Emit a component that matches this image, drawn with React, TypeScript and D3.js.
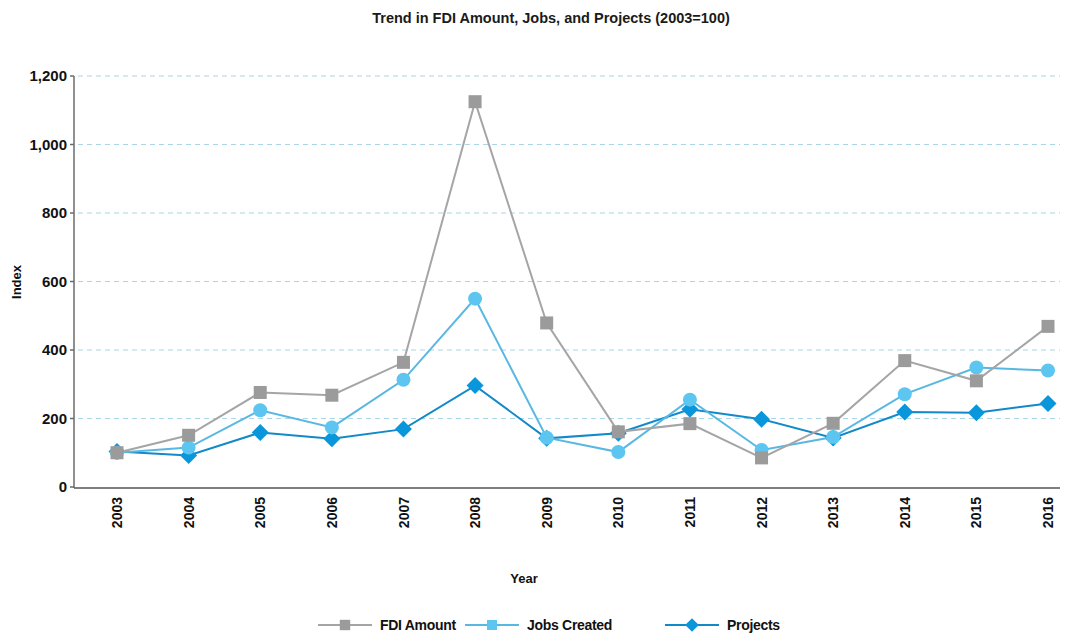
import { useEffect, useRef } from "react";
import * as d3 from "d3";

const years = [2003, 2004, 2005, 2006, 2007, 2008, 2009, 2010, 2011, 2012, 2013, 2014, 2015, 2016];
const fdiAmount = [100, 151, 276, 268, 364, 1125, 479, 161, 185, 85, 186, 369, 310, 469];
const jobsCreated = [100, 115, 224, 174, 313, 550, 144, 102, 255, 108, 146, 271, 349, 340];
const projects = [104, 92, 159, 141, 169, 296, 142, 157, 227, 198, 143, 219, 217, 244];
const yTicks = [0, 200, 400, 600, 800, 1000, 1200];

const FONT = "'Liberation Sans', Arial, sans-serif";

interface Series {
  name: string;
  values: number[];
  line: string;
  fill: string;
  symbol: "square" | "circle" | "diamond";
}

const series: Series[] = [
  { name: "Projects", values: projects, line: "#1289c8", fill: "#0a96db", symbol: "diamond" },
  { name: "Jobs Created", values: jobsCreated, line: "#58b8e2", fill: "#5cc6f0", symbol: "circle" },
  { name: "FDI Amount", values: fdiAmount, line: "#a5a5a5", fill: "#9b9b9b", symbol: "square" },
];

const legendOrder = ["FDI Amount", "Jobs Created", "Projects"];

export default function App() {
  const svgRef = useRef<SVGSVGElement | null>(null);

  useEffect(() => {
    if (!svgRef.current) return;
    const svg = d3.select(svgRef.current);
    svg.selectAll("*").remove();

    const width = 1067;
    const height = 636;
    const left = 74;
    const right = 1060;
    const top = 76;
    const bottom = 487;

    const x = d3.scalePoint<number>().domain(years).range([117, 1048]);
    const y = d3.scaleLinear().domain([0, 1200]).range([bottom, top]);

    svg
      .attr("width", width)
      .attr("height", height)
      .style("display", "block")
      .style("position", "absolute")
      .style("left", "0px")
      .style("top", "0px");

    svg
      .append("text")
      .attr("x", 551)
      .attr("y", 23)
      .attr("text-anchor", "middle")
      .attr("font-family", FONT)
      .attr("font-weight", 700)
      .attr("font-size", 14.5)
      .attr("fill", "#1a1a1a")
      .text("Trend in FDI Amount, Jobs, and Projects (2003=100)");

    // grid
    svg
      .append("g")
      .selectAll("line")
      .data(yTicks.filter((t) => t > 0))
      .join("line")
      .attr("x1", left + 4)
      .attr("x2", right)
      .attr("y1", (d) => y(d))
      .attr("y2", (d) => y(d))
      .attr("stroke", "#a9d6e8")
      .attr("stroke-width", 1.2)
      .attr("stroke-dasharray", "5,4");

    // y axis
    const yAxis = svg.append("g").attr("transform", `translate(${left},0)`);
    yAxis
      .append("line")
      .attr("y1", top)
      .attr("y2", bottom + 1)
      .attr("stroke", "#6b6b6b")
      .attr("stroke-width", 1.5);
    yAxis
      .selectAll("line.tick")
      .data(yTicks)
      .join("line")
      .attr("class", "tick")
      .attr("x1", -4)
      .attr("x2", 0)
      .attr("y1", (d) => y(d))
      .attr("y2", (d) => y(d))
      .attr("stroke", "#6b6b6b")
      .attr("stroke-width", 1.5);
    yAxis
      .selectAll("text")
      .data(yTicks)
      .join("text")
      .attr("x", -7)
      .attr("y", (d) => y(d))
      .attr("dy", "0.36em")
      .attr("text-anchor", "end")
      .attr("font-family", FONT)
      .attr("font-weight", 700)
      .attr("font-size", 15)
      .attr("fill", "#111")
      .text((d) => d3.format(",")(d));

    // x axis
    svg
      .append("line")
      .attr("x1", left)
      .attr("x2", right)
      .attr("y1", bottom + 1)
      .attr("y2", bottom + 1)
      .attr("stroke", "#555")
      .attr("stroke-width", 1.5);
    svg
      .append("g")
      .selectAll("text")
      .data(years)
      .join("text")
      .attr("transform", (d) => `translate(${x(d)},${bottom + 10}) rotate(-90)`)
      .attr("dy", "0.36em")
      .attr("text-anchor", "end")
      .attr("font-family", FONT)
      .attr("font-weight", 700)
      .attr("font-size", 14)
      .attr("fill", "#111")
      .text((d) => String(d));

    svg
      .append("text")
      .attr("transform", "translate(21,282) rotate(-90)")
      .attr("text-anchor", "middle")
      .attr("font-family", FONT)
      .attr("font-weight", 700)
      .attr("font-size", 13)
      .attr("fill", "#111")
      .text("Index");

    svg
      .append("text")
      .attr("x", 524)
      .attr("y", 583)
      .attr("text-anchor", "middle")
      .attr("font-family", FONT)
      .attr("font-weight", 700)
      .attr("font-size", 13)
      .attr("fill", "#111")
      .text("Year");

    const drawMarker = (
      g: d3.Selection<SVGGElement, unknown, null, undefined>,
      s: Series,
      cx: number,
      cy: number,
      scale = 1
    ) => {
      if (s.symbol === "square") {
        const h = 6.5 * scale;
        g.append("rect")
          .attr("x", cx - h)
          .attr("y", cy - h)
          .attr("width", h * 2)
          .attr("height", h * 2)
          .attr("fill", s.fill);
      } else if (s.symbol === "circle") {
        g.append("circle").attr("cx", cx).attr("cy", cy).attr("r", 7 * scale).attr("fill", s.fill);
      } else {
        const r = 8.5 * scale;
        g.append("path")
          .attr("d", `M${cx},${cy - r}L${cx + r},${cy}L${cx},${cy + r}L${cx - r},${cy}Z`)
          .attr("fill", s.fill);
      }
    };

    const line = d3
      .line<number>()
      .x((_, i) => x(years[i]) as number)
      .y((d) => y(d));

    series.forEach((s) => {
      const g = svg.append("g");
      g.append("path")
        .attr("d", line(s.values))
        .attr("fill", "none")
        .attr("stroke", s.line)
        .attr("stroke-width", 2);
      s.values.forEach((v, i) => drawMarker(g, s, x(years[i]) as number, y(v)));
    });

    // legend
    const legendX = [318, 465, 665];
    legendOrder.forEach((name, i) => {
      const s = series.find((d) => d.name === name)!;
      const g = svg.append("g");
      const lx = legendX[i];
      const ly = 625;
      g.append("line")
        .attr("x1", lx)
        .attr("x2", lx + 54)
        .attr("y1", ly)
        .attr("y2", ly)
        .attr("stroke", s.line)
        .attr("stroke-width", 2);
      if (s.symbol === "circle") {
        g.append("rect").attr("x", lx + 22).attr("y", ly - 5).attr("width", 10).attr("height", 10).attr("fill", s.fill);
      } else {
        drawMarker(g, s, lx + 27, ly, 0.8);
      }
      g.append("text")
        .attr("x", lx + 62)
        .attr("y", ly)
        .attr("dy", "0.36em")
        .attr("font-family", FONT)
        .attr("font-weight", 700)
        .attr("font-size", 14)
        .attr("letter-spacing", -0.3)
        .attr("fill", "#111")
        .text(name);
    });
  }, []);

  return <svg ref={svgRef} />;
}
